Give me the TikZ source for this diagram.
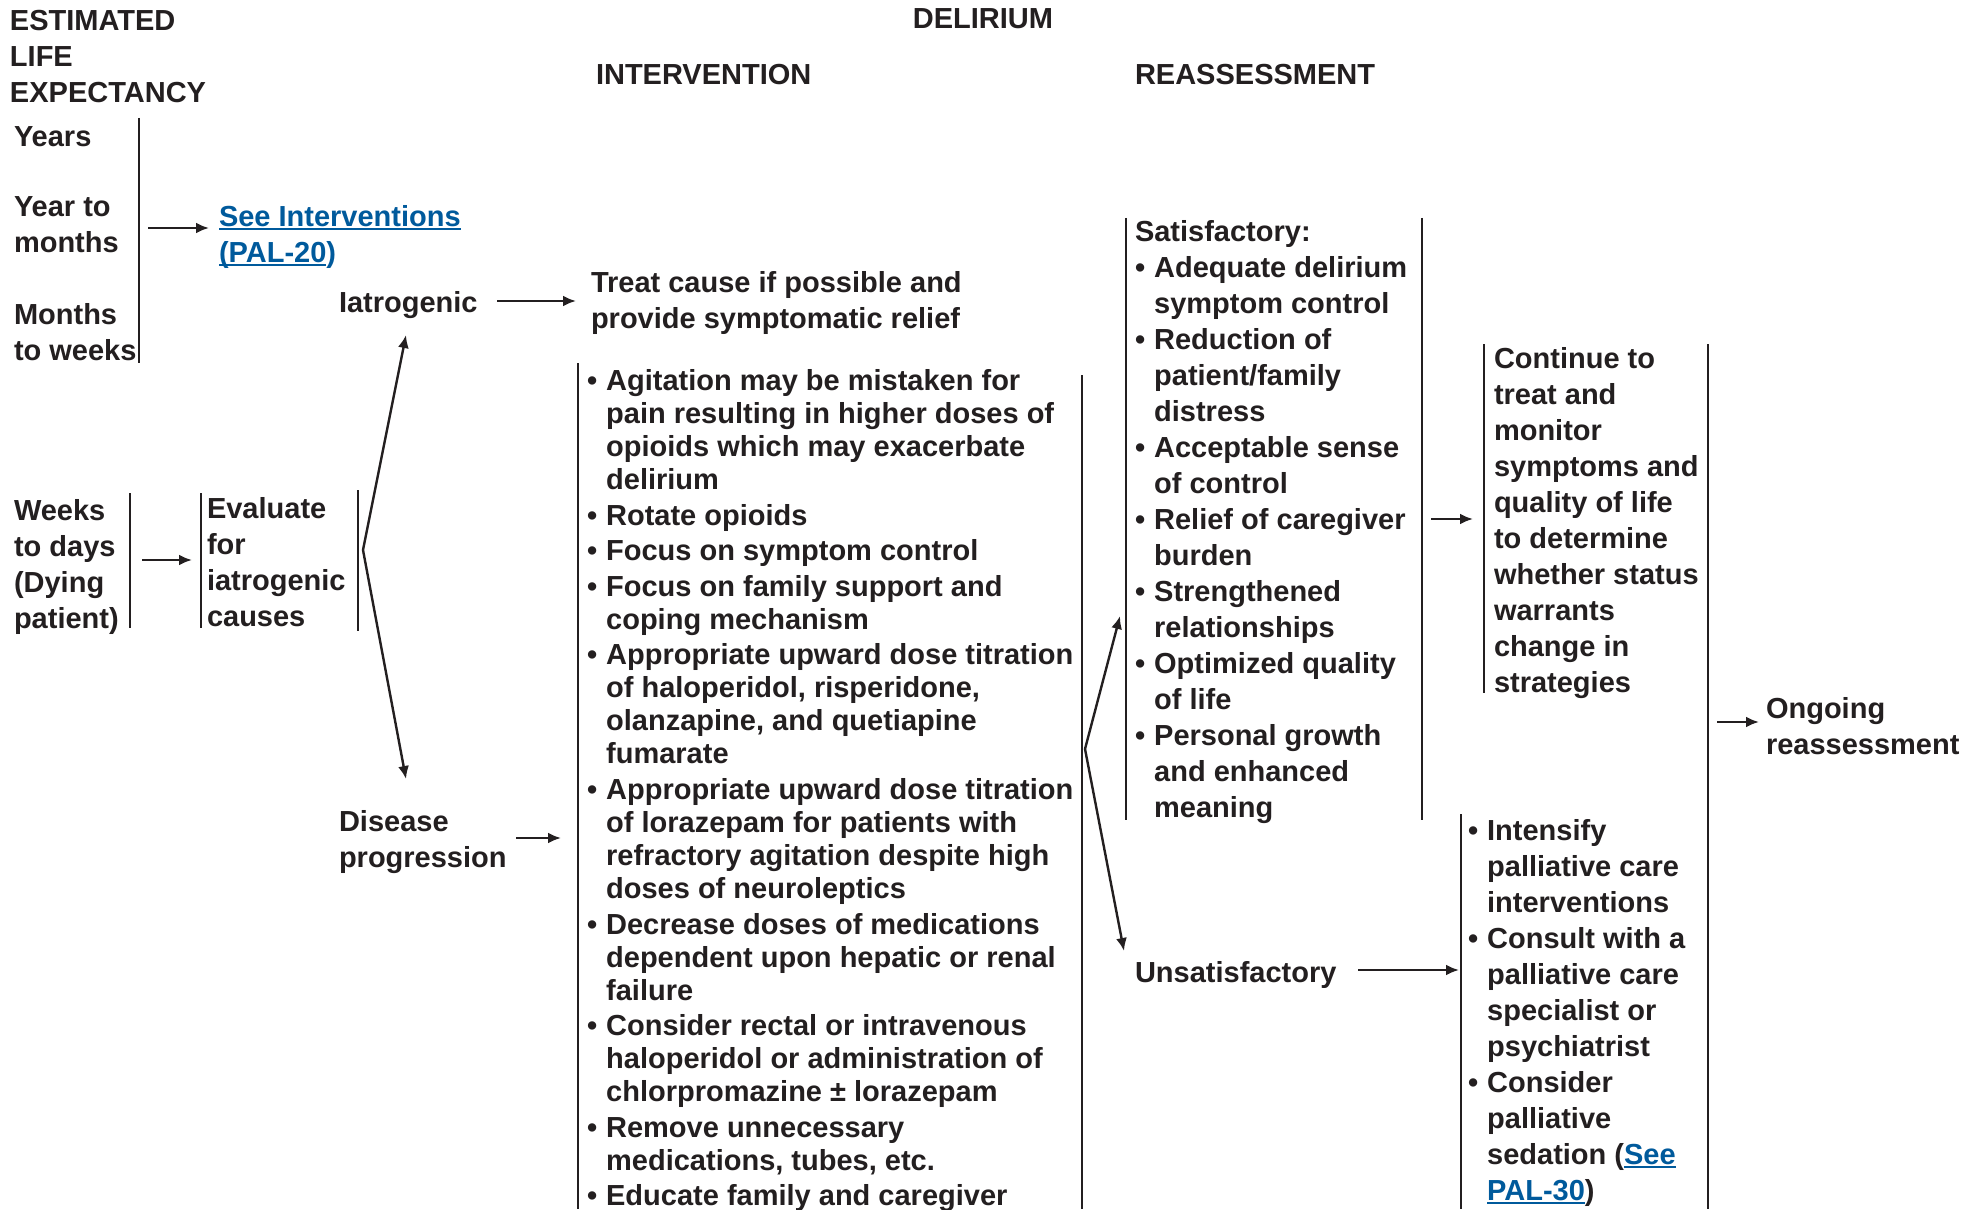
\documentclass[tikz,border=0pt]{standalone}
\usepackage{fontspec}
\setmainfont{Liberation Sans}
\usetikzlibrary{arrows.meta}
\definecolor{ink}{HTML}{231F20}
\definecolor{linkblue}{HTML}{005A9C}
\newcommand\blk[1]{\begin{tabular}[t]{@{}l@{}}#1\end{tabular}}
\newcommand\blist[1]{\begin{tabular}[t]{@{}l@{\hspace{4.5pt}}l@{}}#1\end{tabular}}
\newcommand\lnk[1]{\setbox0\hbox{\color{linkblue}#1}{\color{linkblue}\rlap{\rule[-1.8pt]{\wd0}{0.9pt}}}\box0}
\begin{document}
\begin{tikzpicture}[x=0.5pt,y=-0.5pt,
  font=\fontsize{14.5}{18}\selectfont\bfseries, text=ink,
  every node/.style={inner sep=0pt, outer sep=0pt, anchor=base west},
  tight/.style={font=\fontsize{14.5}{16.5}\selectfont\bfseries},
  bar/.style={draw=ink, line width=1.2pt},
  arr/.style={draw=ink, line width=1.2pt, -{Latex[length=6.5pt,width=5.5pt]}}]
\fill[white] (0,0) rectangle (1984,1209);
\useasboundingbox (0,0) rectangle (1984,1209);

% headers
\node (hdrele) at (10,30.5) {\blk{ESTIMATED\\LIFE\\EXPECTANCY}};
\node[anchor=base] (hdrdel) at (983,29) {DELIRIUM};
\node (hdrint) at (596,84.5) {INTERVENTION};
\node (hdrrea) at (1135,84.5) {REASSESSMENT};

% life expectancy column
\node (years) at (14,146.5) {Years};
\node (ytm) at (14,216.5) {\blk{Year to\\months}};
\node (mtw) at (14,324.5) {\blk{Months\\to weeks}};
\node (seeint) at (219,226.5) {\blk{\lnk{See Interventions}\\\lnk{(PAL-20}{\color{linkblue})}}};
\node (iatro) at (339,312) {Iatrogenic};
\node (treat) at (591,292.5) {\blk{Treat cause if possible and\\provide symptomatic relief}};
\node (wtd) at (14,520.5) {\blk{Weeks\\to days\\(Dying\\patient)}};
\node (eval) at (207,518.5) {\blk{Evaluate\\for\\iatrogenic\\causes}};
\node (disease) at (339,831.5) {\blk{Disease\\progression}};

% intervention list
\node[tight] (interv) at (587,390.5) {\blist{%
\textbullet & Agitation may be mistaken for\\
 & pain resulting in higher doses of\\
 & opioids which may exacerbate\\
 & delirium\\[1.3pt]
\textbullet & Rotate opioids\\[1.3pt]
\textbullet & Focus on symptom control\\[1.3pt]
\textbullet & Focus on family support and\\
 & coping mechanism\\[1.3pt]
\textbullet & Appropriate upward dose titration\\
 & of haloperidol, risperidone,\\
 & olanzapine, and quetiapine\\
 & fumarate\\[1.3pt]
\textbullet & Appropriate upward dose titration\\
 & of lorazepam for patients with\\
 & refractory agitation despite high\\
 & doses of neuroleptics\\[1.3pt]
\textbullet & Decrease doses of medications\\
 & dependent upon hepatic or renal\\
 & failure\\[1.3pt]
\textbullet & Consider rectal or intravenous\\
 & haloperidol or administration of\\
 & chlorpromazine ± lorazepam\\[1.3pt]
\textbullet & Remove unnecessary\\
 & medications, tubes, etc.\\[1.3pt]
\textbullet & Educate family and caregiver}};

% reassessment
\node (satis) at (1135,241.5) {\blist{%
\multicolumn{2}{@{}l@{}}{Satisfactory:}\\
\textbullet & Adequate delirium\\
 & symptom control\\
\textbullet & Reduction of\\
 & patient/family\\
 & distress\\
\textbullet & Acceptable sense\\
 & of control\\
\textbullet & Relief of caregiver\\
 & burden\\
\textbullet & Strengthened\\
 & relationships\\
\textbullet & Optimized quality\\
 & of life\\
\textbullet & Personal growth\\
 & and enhanced\\
 & meaning}};
\node (cont) at (1494,368) {\blk{Continue to\\treat and\\monitor\\symptoms and\\quality of life\\to determine\\whether status\\warrants\\change in\\strategies}};
\node (ongoing) at (1766,718) {\blk{Ongoing\\reassessment}};
\node (unsat) at (1135,982) {Unsatisfactory};
\node (intens) at (1468,840) {\blist{%
\textbullet & Intensify\\
 & palliative care\\
 & interventions\\
\textbullet & Consult with a\\
 & palliative care\\
 & specialist or\\
 & psychiatrist\\
\textbullet & Consider\\
 & palliative\\
 & sedation (\lnk{See}\\
 & \lnk{PAL-30}\textcolor{ink}{)}}};

% bars
\draw[bar] (139,118) -- (139,363);
\draw[bar] (130,493) -- (130,628);
\draw[bar] (201,493) -- (201,628);
\draw[bar] (358,490) -- (358,631);
\draw[bar] (578,363) -- (578,1209);
\draw[bar] (1082,375) -- (1082,1209);
\draw[bar] (1126,218) -- (1126,820);
\draw[bar] (1422,218) -- (1422,820);
\draw[bar] (1484,344) -- (1484,693);
\draw[bar] (1708,344) -- (1708,1209);
\draw[bar] (1461,814) -- (1461,1209);

% connector end points
\coordinate (ytmS) at (148,228);  \coordinate (seeE) at (209,228);
\coordinate (iatS) at (497,301);  \coordinate (treatE) at (576,301);
\coordinate (wtdS) at (142,560);  \coordinate (evalE) at (192,560);
\coordinate (br1) at (363,550);
\coordinate (iatE) at (406,335);  \coordinate (disE) at (406,779);
\coordinate (disS) at (516,838);  \coordinate (intE) at (561,838);
\coordinate (br2) at (1085,749);
\coordinate (satE) at (1120,616); \coordinate (unsE) at (1124,951);
\coordinate (satS) at (1431,519); \coordinate (contE) at (1473,519);
\coordinate (unsS) at (1358,970); \coordinate (intsE) at (1459,970);
\coordinate (contS) at (1717,722); \coordinate (ongE) at (1759,722);

% connectors
\draw[arr] (ytmS) -- (seeE);
\draw[arr] (iatS) -- (treatE);
\draw[arr] (wtdS) -- (evalE);
\draw[arr] (br1) -- (iatE);
\draw[arr] (br1) -- (disE);
\draw[arr] (disS) -- (intE);
\draw[arr] (br2) -- (satE);
\draw[arr] (br2) -- (unsE);
\draw[arr] (satS) -- (contE);
\draw[arr] (unsS) -- (intsE);
\draw[arr] (contS) -- (ongE);
\end{tikzpicture}
\end{document}
